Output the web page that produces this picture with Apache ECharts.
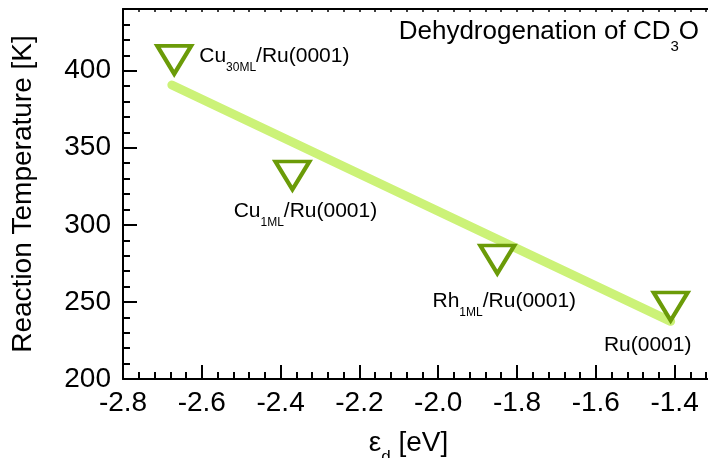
<!DOCTYPE html>
<html>
<head>
<meta charset="utf-8">
<script src="https://cdn.jsdelivr.net/npm/echarts@6/dist/echarts.min.js"></script>
<style>
  html, body { margin: 0; padding: 0; background: #fff; }
  #chart { width: 708px; height: 458px; }
</style>
</head>
<body>
<div id="chart"></div>
<script>
// d-band centre (eV) and reaction temperature (K) for each surface
const energies = [-2.67, -2.37, -1.85, -1.41];
const temperatures = [407, 332, 277.5, 247];
// surface names split into [main, subscript, rest]
const surfaces = [
  ['Cu', '30ML', '/Ru(0001)'],
  ['Cu', '1ML', '/Ru(0001)'],
  ['Rh', '1ML', '/Ru(0001)'],
  ['Ru(0001)', '', '']
];
// linear trend line end points
const fitEnergies = [-2.676, -1.41];
const fitTemps = [390.7, 237.4];

// axis ranges
const xRange = { min: -2.8, max: -1.3, major: 0.2, minor: 0.04 };
const yRange = { min: 200, max: 440, major: 50, minor: 10 };

const FONT = '"Liberation Sans", Arial, Helvetica, sans-serif';
const MARK = '#6b9b08';
const FIT = '#ccf278';

// label placement relative to each marker centre
const labelPlacement = [
  { align: 'left', offset: [25, 8] },
  { align: 'center', offset: [13, 47] },
  { align: 'center', offset: [7, 53] },
  { align: 'center', offset: [-23, 39] }
];

const labelRich = {
  m: { fontSize: 21, lineHeight: 22, verticalAlign: 'top', color: '#000', fontFamily: FONT, fontWeight: 'normal' },
  s: { fontSize: 12, lineHeight: 44, color: '#000', fontFamily: FONT, fontWeight: 'normal' }
};

const points = energies.map((e, i) => ({
  value: [e, temperatures[i]],
  label: labelPlacement[i]
}));

const fitLine = fitEnergies.map((e, i) => [e, fitTemps[i]]);

const axisLineStyle = { color: '#000', width: 2 };

function xAxisDef(opts) {
  return Object.assign({
    type: 'value',
    min: xRange.min,
    max: xRange.max,
    splitLine: { show: false },
    axisLine: { show: false, onZero: false },
    axisLabel: { show: false },
    axisTick: { show: false }
  }, opts);
}
function yAxisDef(opts) {
  return Object.assign({
    type: 'value',
    min: yRange.min,
    max: yRange.max,
    splitLine: { show: false },
    axisLine: { show: false, onZero: false },
    axisLabel: { show: false },
    axisTick: { show: false }
  }, opts);
}

const chart = echarts.init(document.getElementById('chart'), null, { renderer: 'canvas' });

chart.setOption({
  backgroundColor: '#fff',
  animation: false,
  title: {
    text: '{m|Dehydrogenation of CD}{s|3}{m|O}',
    right: 9,
    top: 19,
    padding: 0,
    textStyle: {
      fontWeight: 'normal',
      rich: {
        m: { fontSize: 26, lineHeight: 26, verticalAlign: 'top', color: '#000', fontFamily: FONT, fontWeight: 'normal' },
        s: { fontSize: 15, lineHeight: 56, color: '#000', fontFamily: FONT, fontWeight: 'normal' }
      }
    }
  },
  grid: { left: 123, right: -6, top: 9, bottom: 79, containLabel: false, outerBoundsMode: 'none' },
  xAxis: [
    // main bottom axis: line, labels, long ticks
    xAxisDef({
      position: 'bottom',
      interval: xRange.major,
      axisLine: { show: true, onZero: false, lineStyle: axisLineStyle },
      axisTick: { show: true, inside: true, length: 14, lineStyle: { color: '#000', width: 2 } },
      axisLabel: {
        show: true, margin: 10, fontSize: 28, lineHeight: 28, color: '#000', fontFamily: FONT,
        showMaxLabel: false,
        formatter: v => v.toFixed(1)
      },
      name: '{m|ε}{s|d}{m| [eV]}',
      nameLocation: 'middle',
      nameGap: 50,
      nameTextStyle: {
        padding: [0, 20, 0, 0],
        rich: {
          m: { fontSize: 28, lineHeight: 28, verticalAlign: 'top', color: '#000', fontFamily: FONT },
          s: { fontSize: 17, lineHeight: 56, color: '#000', fontFamily: FONT }
        }
      }
    }),
    // short intermediate ticks on the bottom axis
    xAxisDef({
      position: 'bottom',
      interval: xRange.minor,
      axisTick: { show: true, inside: true, length: 7, lineStyle: { color: '#000', width: 2 } }
    }),
    // top frame line with small ticks
    xAxisDef({
      position: 'top',
      interval: xRange.minor,
      axisLine: { show: true, onZero: false, lineStyle: axisLineStyle },
      axisTick: { show: true, inside: true, length: 3, lineStyle: { color: '#000', width: 1.5 } }
    })
  ],
  yAxis: [
    yAxisDef({
      position: 'left',
      interval: yRange.major,
      axisLine: { show: true, onZero: false, lineStyle: axisLineStyle },
      axisTick: { show: true, inside: true, length: 14, lineStyle: { color: '#000', width: 2 } },
      axisLabel: {
        show: true, margin: 12, fontSize: 28, color: '#000', fontFamily: FONT,
        showMaxLabel: false
      },
      name: 'Reaction Temperature [K]',
      nameLocation: 'middle',
      nameGap: 86,
      nameTextStyle: { fontSize: 28, lineHeight: 28, color: '#000', fontFamily: FONT }
    }),
    yAxisDef({
      position: 'left',
      interval: yRange.minor,
      axisTick: { show: true, inside: true, length: 7, lineStyle: { color: '#000', width: 2 } }
    })
  ],
  series: [
    {
      type: 'line',
      name: 'trend',
      xAxisIndex: 0,
      yAxisIndex: 0,
      data: fitLine,
      symbol: 'none',
      lineStyle: { color: FIT, width: 9, cap: 'round' },
      silent: true,
      z: 2
    },
    {
      type: 'scatter',
      name: 'surfaces',
      xAxisIndex: 0,
      yAxisIndex: 0,
      data: points,
      symbol: 'triangle',
      symbolRotate: 180,
      symbolSize: [34, 28],
      itemStyle: { color: '#fff', borderColor: MARK, borderWidth: 4, opacity: 1 },
      label: {
        show: true,
        position: 'inside',
        verticalAlign: 'middle',
        formatter: p => {
          const s = surfaces[p.dataIndex];
          return s[1] ? `{m|${s[0]}}{s|${s[1]}}{m|${s[2]}}` : `{m|${s[0]}}`;
        },
        rich: labelRich
      },
      z: 3
    }
  ]
});
</script>
</body>
</html>
